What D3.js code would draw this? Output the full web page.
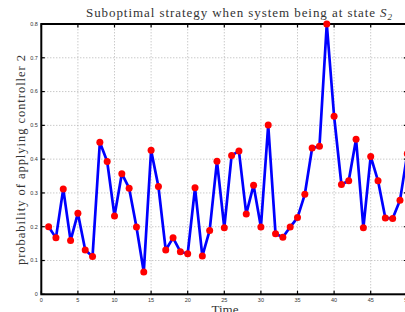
<!DOCTYPE html>
<meta charset="utf-8">
<style>
  body { margin: 0; background: #fff; }
  svg { display: block; }
</style>
<svg width="405" height="312"></svg>
<script src="https://d3js.org/d3.v7.min.js"></script>
<script>

var time = d3.range(1, 51);
var prob = [0.200, 0.167, 0.312, 0.159, 0.240, 0.131, 0.112, 0.450, 0.393, 0.232,
            0.357, 0.314, 0.199, 0.066, 0.426, 0.319, 0.131, 0.167, 0.126, 0.120,
            0.315, 0.113, 0.189, 0.394, 0.197, 0.411, 0.424, 0.238, 0.323, 0.199,
            0.501, 0.179, 0.169, 0.199, 0.227, 0.296, 0.433, 0.438, 0.800, 0.527,
            0.325, 0.336, 0.459, 0.197, 0.408, 0.336, 0.226, 0.224, 0.278, 0.416];
var xTicks = [0, 5, 10, 15, 20, 25, 30, 35, 40, 45, 50];
var yTicks = [0, 0.1, 0.2, 0.3, 0.4, 0.5, 0.6, 0.7, 0.8];

var svg = d3.select("svg");

var x = d3.scaleLinear().domain([0, 50]).range([41.3, 407.3]),
    y = d3.scaleLinear().domain([0, 0.8]).range([294.3, 24]);

var tickFont = "Liberation Sans, Arial, sans-serif";

// grid
svg.append("g").selectAll("line")
    .data(xTicks.slice(1, -1))
  .enter().append("line")
    .attr("x1", d => x(d)).attr("x2", d => x(d))
    .attr("y1", y(0)).attr("y2", y(0.8))
    .attr("stroke", "#a0a0a0").attr("stroke-width", 0.8)
    .attr("stroke-dasharray", "1,2");

svg.append("g").selectAll("line")
    .data(yTicks.slice(1, -1))
  .enter().append("line")
    .attr("x1", x(0)).attr("x2", x(50))
    .attr("y1", d => y(d)).attr("y2", d => y(d))
    .attr("stroke", "#a0a0a0").attr("stroke-width", 0.8)
    .attr("stroke-dasharray", "1,2");

// inward ticks on all four sides
var tk = 3.5;
var ticks = svg.append("g").attr("stroke", "#000").attr("stroke-width", 1.2);
xTicks.forEach(function (d) {
    ticks.append("line").attr("x1", x(d)).attr("x2", x(d)).attr("y1", y(0)).attr("y2", y(0) - tk);
    ticks.append("line").attr("x1", x(d)).attr("x2", x(d)).attr("y1", y(0.8)).attr("y2", y(0.8) + tk);
});
yTicks.forEach(function (d) {
    ticks.append("line").attr("x1", x(0)).attr("x2", x(0) + tk).attr("y1", y(d)).attr("y2", y(d));
    ticks.append("line").attr("x1", x(50)).attr("x2", x(50) - tk).attr("y1", y(d)).attr("y2", y(d));
});

// frame
svg.append("rect")
    .attr("x", x(0)).attr("y", y(0.8))
    .attr("width", x(50) - x(0)).attr("height", y(0) - y(0.8))
    .attr("fill", "none").attr("stroke", "#000").attr("stroke-width", 2);

// tick labels
svg.append("g").selectAll("text")
    .data(yTicks)
  .enter().append("text")
    .attr("x", x(0) - 3.5).attr("y", d => y(d) + 1.8)
    .attr("text-anchor", "end")
    .attr("font-family", tickFont).attr("font-size", 5.5)
    .attr("fill", "#333")
    .text(d => d === 0 ? "0" : d3.format(".1f")(d));

svg.append("g").selectAll("text")
    .data(xTicks)
  .enter().append("text")
    .attr("x", d => x(d)).attr("y", y(0) + 8)
    .attr("text-anchor", "middle")
    .attr("font-family", tickFont).attr("font-size", 5.5)
    .attr("fill", "#333")
    .text(d => d);

// series
var line = d3.line()
    .x((d, i) => x(time[i]))
    .y(d => y(d));

svg.append("path")
    .datum(prob)
    .attr("d", line)
    .attr("fill", "none")
    .attr("stroke", "#0000ff")
    .attr("stroke-width", 2.7)
    .attr("stroke-linejoin", "round");

svg.append("g").selectAll("circle")
    .data(prob)
  .enter().append("circle")
    .attr("cx", (d, i) => x(time[i]))
    .attr("cy", d => y(d))
    .attr("r", 3.5)
    .attr("fill", "#ff0000");

// labels
var serif = "Liberation Serif, Times New Roman, serif";

svg.append("text")
    .attr("x", 239).attr("y", 17)
    .attr("text-anchor", "middle")
    .attr("font-family", serif).attr("font-size", 13)
    .attr("fill", "#333")
    .attr("textLength", 306).attr("lengthAdjust", "spacing")
    .text("Suboptimal strategy when system being at state ")
    .append("tspan").attr("font-style", "italic").text("S")
    .append("tspan").attr("font-size", 9).attr("dy", 3).text("2");

svg.append("text")
    .attr("transform", "translate(25,160) rotate(-90)")
    .attr("text-anchor", "middle")
    .attr("font-family", serif).attr("font-size", 12.5)
    .attr("fill", "#333")
    .attr("textLength", 210).attr("lengthAdjust", "spacing")
    .text("probability of applying controller 2");

svg.append("text")
    .attr("x", 225).attr("y", 314)
    .attr("text-anchor", "middle")
    .attr("font-family", serif).attr("font-size", 13)
    .attr("fill", "#333")
    .text("Time");

</script>
